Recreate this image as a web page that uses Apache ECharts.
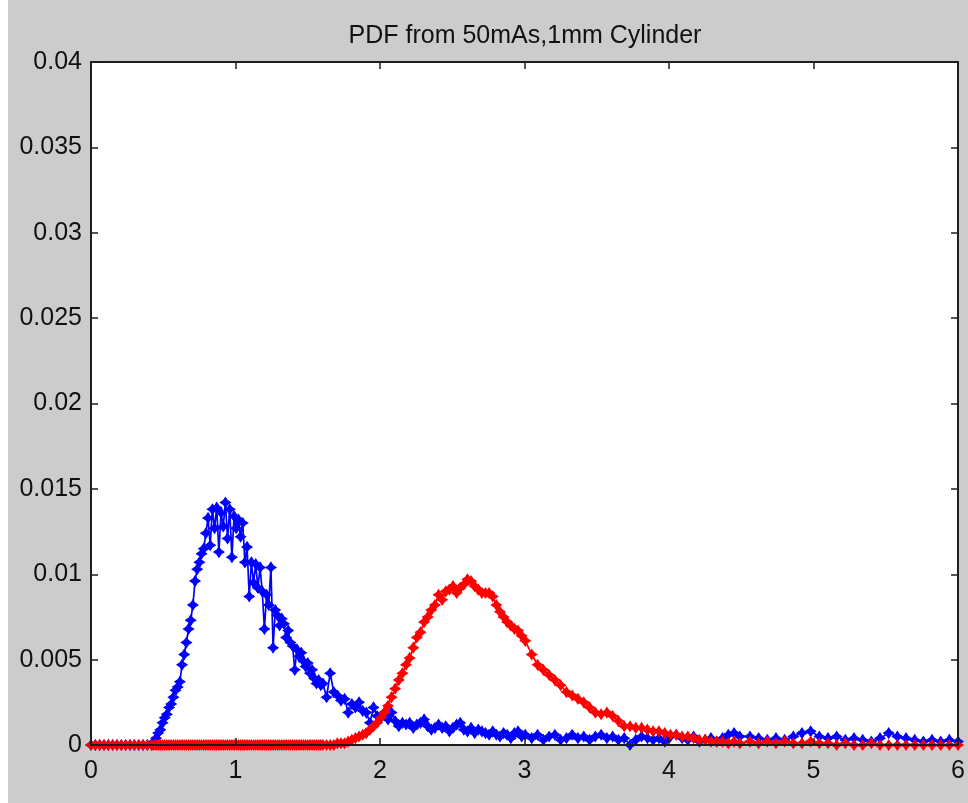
<!DOCTYPE html>
<html>
<head>
<meta charset="utf-8">
<title>PDF from 50mAs,1mm Cylinder</title>
<script src="https://cdn.jsdelivr.net/npm/echarts@6/dist/echarts.min.js"></script>
<style>
  html, body { margin: 0; padding: 0; }
  body {
    width: 968px; height: 803px; overflow: hidden;
    background: linear-gradient(to right, #ffffff 0px, #ffffff 8px, #cccccc 8px);
  }
  #chart { width: 968px; height: 803px; }
</style>
</head>
<body>
<div id="chart"></div>
<script>
// Shared sample positions for both density estimates
const xs = [
  0, 0.03, 0.06, 0.09, 0.12, 0.15, 0.18, 0.21, 0.24, 0.27, 0.30, 0.33, 0.36, 0.39, 0.42,
  0.435, 0.45, 0.465, 0.48, 0.495, 0.51, 0.525, 0.54, 0.555, 0.57,
  0.585, 0.60, 0.615, 0.63, 0.645, 0.66, 0.675, 0.69, 0.705, 0.72,
  0.735, 0.75, 0.765, 0.78, 0.795, 0.81, 0.825, 0.84, 0.855, 0.87,
  0.885, 0.90, 0.915, 0.93, 0.945, 0.96, 0.975, 0.99, 1.005, 1.02,
  1.035, 1.05, 1.065, 1.08, 1.095, 1.11, 1.125, 1.14, 1.155, 1.17,
  1.185, 1.20, 1.215, 1.23, 1.245, 1.26, 1.275, 1.29, 1.305, 1.32,
  1.335, 1.35, 1.365, 1.38, 1.395, 1.41, 1.425, 1.44, 1.455, 1.47,
  1.485, 1.50, 1.515, 1.53, 1.545, 1.56, 1.575, 1.59, 1.605,
  1.63, 1.655, 1.68, 1.705, 1.73, 1.755, 1.78, 1.805, 1.83, 1.855,
  1.88, 1.905, 1.93, 1.955, 1.98, 2.005, 2.03, 2.055, 2.08, 2.105,
  2.13, 2.155, 2.18, 2.205, 2.23, 2.255, 2.28, 2.305, 2.33, 2.355,
  2.38, 2.405, 2.43, 2.455, 2.48, 2.505, 2.53, 2.555, 2.58, 2.605,
  2.63, 2.655, 2.68, 2.705, 2.73, 2.755, 2.78, 2.805, 2.83, 2.855,
  2.88, 2.905, 2.93, 2.955, 2.98, 3.005,
  3.05, 3.09, 3.13, 3.17, 3.21, 3.25, 3.29, 3.33, 3.37, 3.41,
  3.45, 3.49, 3.53, 3.57, 3.61, 3.65, 3.69, 3.73, 3.77, 3.81,
  3.85, 3.89, 3.93, 3.97, 4.01, 4.05, 4.09, 4.13, 4.17, 4.21,
  4.25, 4.29, 4.33, 4.37, 4.41, 4.45, 4.49,
  4.56, 4.62, 4.68, 4.74, 4.80, 4.86, 4.92, 4.98, 5.04, 5.10,
  5.16, 5.22, 5.28, 5.34, 5.40, 5.46, 5.52, 5.58, 5.64, 5.70,
  5.76, 5.82, 5.88, 5.94, 6.00
];

// Blue estimate
const blueY = [
  0, 0, 0, 0, 0, 0, 0, 0, 0, 0, 0, 0, 0, 0, 0,
  0.0002, 0.0004, 0.0007, 0.0009, 0.0013, 0.0016, 0.0018, 0.0022, 0.0024, 0.0028,
  0.0032, 0.0034, 0.0037, 0.0047, 0.0053, 0.0060, 0.0068, 0.0073, 0.0082, 0.0096,
  0.0103, 0.0107, 0.0112, 0.0115, 0.0124, 0.0133, 0.0117, 0.0138, 0.0127, 0.0139,
  0.0113, 0.0136, 0.0128, 0.0142, 0.0121, 0.0138, 0.0110, 0.0134, 0.0127, 0.0132,
  0.0122, 0.0130, 0.0107, 0.0116, 0.0087, 0.0107, 0.0095, 0.0106, 0.0092, 0.0104,
  0.0090, 0.0068, 0.0088, 0.0082, 0.0104, 0.0057, 0.0079, 0.0076, 0.0070, 0.0074,
  0.0071, 0.0063, 0.0067, 0.0060, 0.0058, 0.0044, 0.0056, 0.0052, 0.0054, 0.0049,
  0.0046, 0.0048, 0.0042, 0.0044, 0.0039, 0.0036, 0.0038, 0.0035, 0.0036,
  0.0028, 0.0042, 0.0031, 0.0029, 0.0026, 0.0027, 0.0019, 0.0024, 0.0022, 0.0025,
  0.0020, 0.0019, 0.0013, 0.0022, 0.0017, 0.0016, 0.0019, 0.0015, 0.0019, 0.0014,
  0.0011, 0.0013, 0.0012, 0.0013, 0.0010, 0.0012, 0.0013, 0.0015, 0.0011, 0.0009,
  0.0010, 0.0012, 0.0010, 0.0011, 0.0008, 0.0010, 0.0012, 0.0013, 0.0009, 0.0008,
  0.0010, 0.0007, 0.0009, 0.0008, 0.0007, 0.0006, 0.0008, 0.0006, 0.0005, 0.0007,
  0.0006, 0.0004, 0.0007, 0.0008, 0.0005, 0.0006,
  0.0004, 0.0006, 0.0003, 0.0005, 0.0006, 0.0003, 0.0004, 0.0006, 0.0004, 0.0005,
  0.0003, 0.0005, 0.0006, 0.0004, 0.0005, 0.0003, 0.0004, 0.0000, 0.0003, 0.0005,
  0.0004, 0.0003, 0.0004, 0.0002, 0.0005, 0.0006, 0.0004, 0.0003, 0.0005, 0.0002,
  0.0003, 0.0004, 0.0002, 0.0004, 0.0006, 0.0007, 0.0005,
  0.0005, 0.0004, 0.0003, 0.0004, 0.0003, 0.0005, 0.0007, 0.0008, 0.0005, 0.0004,
  0.0005, 0.0003, 0.0004, 0.0003, 0.0002, 0.0004, 0.0007, 0.0005, 0.0004, 0.0003,
  0.0002, 0.0003, 0.0002, 0.0003, 0.0002
];

// Red estimate
const redY = [
  0, 0, 0, 0, 0, 0, 0, 0, 0, 0, 0, 0, 0, 0, 0,
  0, 0, 0, 0, 0, 0, 0, 0, 0, 0,
  0, 0, 0, 0, 0, 0, 0, 0, 0, 0,
  0, 0, 0, 0, 0, 0, 0, 0, 0, 0,
  0, 0, 0, 0, 0, 0, 0, 0, 0, 0,
  0, 0, 0, 0, 0, 0, 0, 0, 0, 0,
  0, 0, 0, 0, 0, 0, 0, 0, 0, 0,
  0, 0, 0, 0, 0, 0, 0, 0, 0, 0,
  0, 0, 0, 0, 0, 0, 0, 0, 0,
  0, 0, 0, 0.0001, 0.0001, 0.0001, 0.0002, 0.0003, 0.0004, 0.0005,
  0.0006, 0.0007, 0.0009, 0.0011, 0.0013, 0.0016, 0.0019, 0.0023, 0.0028, 0.0033,
  0.0038, 0.0042, 0.0047, 0.0051, 0.0057, 0.0063, 0.0066, 0.0072, 0.0075, 0.0079,
  0.0082, 0.0088, 0.0085, 0.0090, 0.0091, 0.0093, 0.0089, 0.0092, 0.0094, 0.0097,
  0.0096, 0.0093, 0.0091, 0.0089, 0.0089, 0.0089, 0.0087, 0.0082, 0.0078, 0.0075,
  0.0072, 0.0070, 0.0068, 0.0067, 0.0064, 0.0061,
  0.0053, 0.0047, 0.0044, 0.0041, 0.0038, 0.0035, 0.0031, 0.0029, 0.0027, 0.0025,
  0.0022, 0.0019, 0.0018, 0.0019, 0.0017, 0.0014, 0.0011, 0.0011, 0.0010, 0.0010,
  0.0009, 0.0008, 0.0008, 0.0007, 0.0006, 0.0006, 0.0005, 0.0005, 0.0004, 0.0003,
  0.0003, 0.0002, 0.0002, 0.0002, 0.0001, 0.0002, 0.0001,
  0.0002, 0.0001, 0.0002, 0.0001, 0.0002, 0.0001, 0.0001, 0.0002, 0.0001, 0.0001,
  0, 0.0001, 0, 0, 0.0001, 0, 0, 0, 0, 0,
  0, 0, 0, 0, 0
];

const xTickLabels = ['0', '1', '2', '3', '4', '5', '6'];
const yTickLabels = ['0', '0.005', '0.01', '0.015', '0.02', '0.025', '0.03', '0.035', '0.04'];
const titleText = 'PDF from 50mAs,1mm Cylinder';

const FONT = '"Liberation Sans", Arial, Helvetica, sans-serif';
const FRAME = '#1e1e1e';
// chunky four-pointed star marker
const MARK = 'path://M5,0 L7,3 L10,5 L7,7 L5,10 L3,7 L0,5 L3,3 Z';

const blueData = xs.map((x, i) => [x, blueY[i]]);
const redData = xs.map((x, i) => [x, redY[i]]);

function frameAxis(pos, isX, showLabels) {
  const base = {
    type: 'value',
    position: pos,
    z: 5,
    axisLine: { show: true, onZero: false, lineStyle: { color: FRAME, width: 2 } },
    axisTick: { show: true, inside: true, length: 7, lineStyle: { color: FRAME, width: 1.5 } },
    splitLine: { show: false },
    axisLabel: { show: showLabels, color: '#111', fontSize: 25, fontFamily: FONT }
  };
  if (isX) {
    Object.assign(base, { min: 0, max: 6, interval: 1 });
    base.axisLabel.margin = 14;
    base.axisLabel.formatter = v => xTickLabels[Math.round(v)];
  } else {
    Object.assign(base, { min: 0, max: 0.04, interval: 0.005 });
    base.axisLabel.margin = 9;
    base.axisLabel.formatter = v => yTickLabels[Math.round(v / 0.005)];
  }
  return base;
}

function curve(data, color) {
  return {
    type: 'line',
    data: data,
    clip: false,
    symbol: MARK,
    symbolSize: 10,
    showAllSymbol: true,
    lineStyle: { color: color, width: 1.7 },
    itemStyle: { color: color, borderColor: color, borderWidth: 1.2 },
    emphasis: { disabled: true }
  };
}

const chart = echarts.init(document.getElementById('chart'), null, { renderer: 'canvas' });
chart.setOption({
  animation: false,
  backgroundColor: 'transparent',
  grid: { left: 91, right: 9, top: 62, bottom: 58, show: true, backgroundColor: '#ffffff', borderWidth: 0 },
  graphic: [{
    type: 'text',
    x: 525, y: 36,
    style: {
      text: titleText,
      fill: '#111',
      font: '25px ' + FONT,
      align: 'center',
      verticalAlign: 'middle'
    }
  }],
  xAxis: [frameAxis('bottom', true, true), frameAxis('top', true, false)],
  yAxis: [frameAxis('left', false, true), frameAxis('right', false, false)],
  series: [curve(blueData, '#0000ff'), curve(redData, '#ff0000')]
});
</script>
</body>
</html>
